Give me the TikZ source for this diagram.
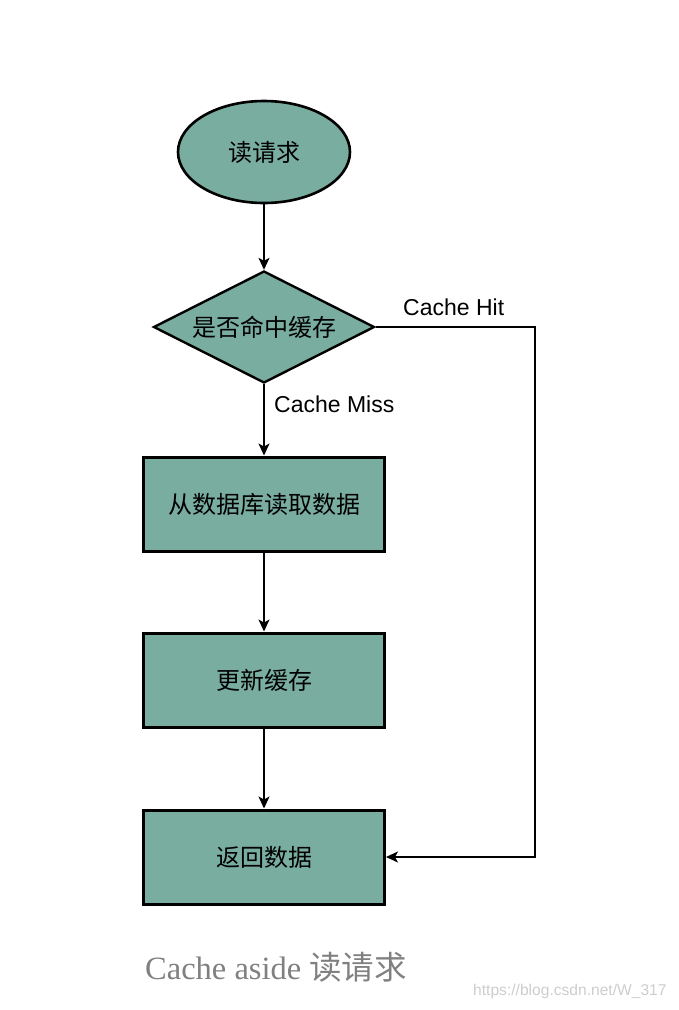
\documentclass[tikz,border=0pt]{standalone}
\usepackage{fontspec}
\setmainfont{Liberation Serif}
\setsansfont{Liberation Sans}
\newfontfamily\cjk{Noto Sans CJK SC}
\usetikzlibrary{shapes.geometric,arrows.meta}
\definecolor{tealfill}{RGB}{121,173,160}
\definecolor{captiongray}{RGB}{128,128,128}
\definecolor{markgray}{RGB}{205,205,205}
\tikzset{
  x=1pt,y=-1pt,
  startnode/.style={ellipse,draw=black,line width=2.6pt,fill=tealfill,minimum width=172pt,minimum height=102pt,inner sep=0pt,font=\cjk\fontsize{24}{28}\selectfont},
  decnode/.style={diamond,draw=black,line width=2.4pt,fill=tealfill,minimum width=221pt,minimum height=112pt,inner sep=0pt},
  procbox/.style={rectangle,draw=black,line width=3pt,fill=tealfill,minimum width=241pt,minimum height=94pt,inner sep=0pt,font=\cjk\fontsize{24}{28}\selectfont},
  conn/.style={line width=1.3pt,-{Stealth[length=12pt,width=11pt,inset=3pt]}},
  edgelabel/.style={font=\sffamily\fontsize{23}{27}\selectfont,inner sep=0pt},
}
\begin{document}
\begin{tikzpicture}
\useasboundingbox (0,0) rectangle (678,1010);
\node[startnode] (read) at (264,152) {读请求};
\node[decnode,label={[font=\cjk\fontsize{24}{28}\selectfont]center:是否命中缓存}] (hit) at (264,327) {};
\node[procbox] (db) at (264,504) {从数据库读取数据};
\node[procbox] (upd) at (264,680) {更新缓存};
\node[procbox] (ret) at (264,857) {返回数据};
\coordinate (corner) at (535,857);
\draw[conn] (read.south) -- (hit.north);
\draw[conn] (hit.south) -- (db.north);
\draw[conn] (db.south) -- (upd.north);
\draw[conn] (upd.south) -- (ret.north);
\draw[conn] (hit.east) -| (corner) -- (ret.east);
\node[edgelabel,anchor=west] (hitlab) at (403,307) {Cache Hit};
\node[edgelabel,anchor=west] (misslab) at (274,404) {Cache Miss};
\node[anchor=west,inner sep=0pt,text=captiongray,font=\fontsize{32.5}{36}\selectfont] (cap) at (145,967) {Cache aside {\cjk 读请求}};
\node[anchor=west,inner sep=0pt,text=markgray,font=\sffamily\fontsize{15.6}{18}\selectfont] (mark) at (473,991) {https://blog.csdn.net/W\_317};
\end{tikzpicture}
\end{document}
